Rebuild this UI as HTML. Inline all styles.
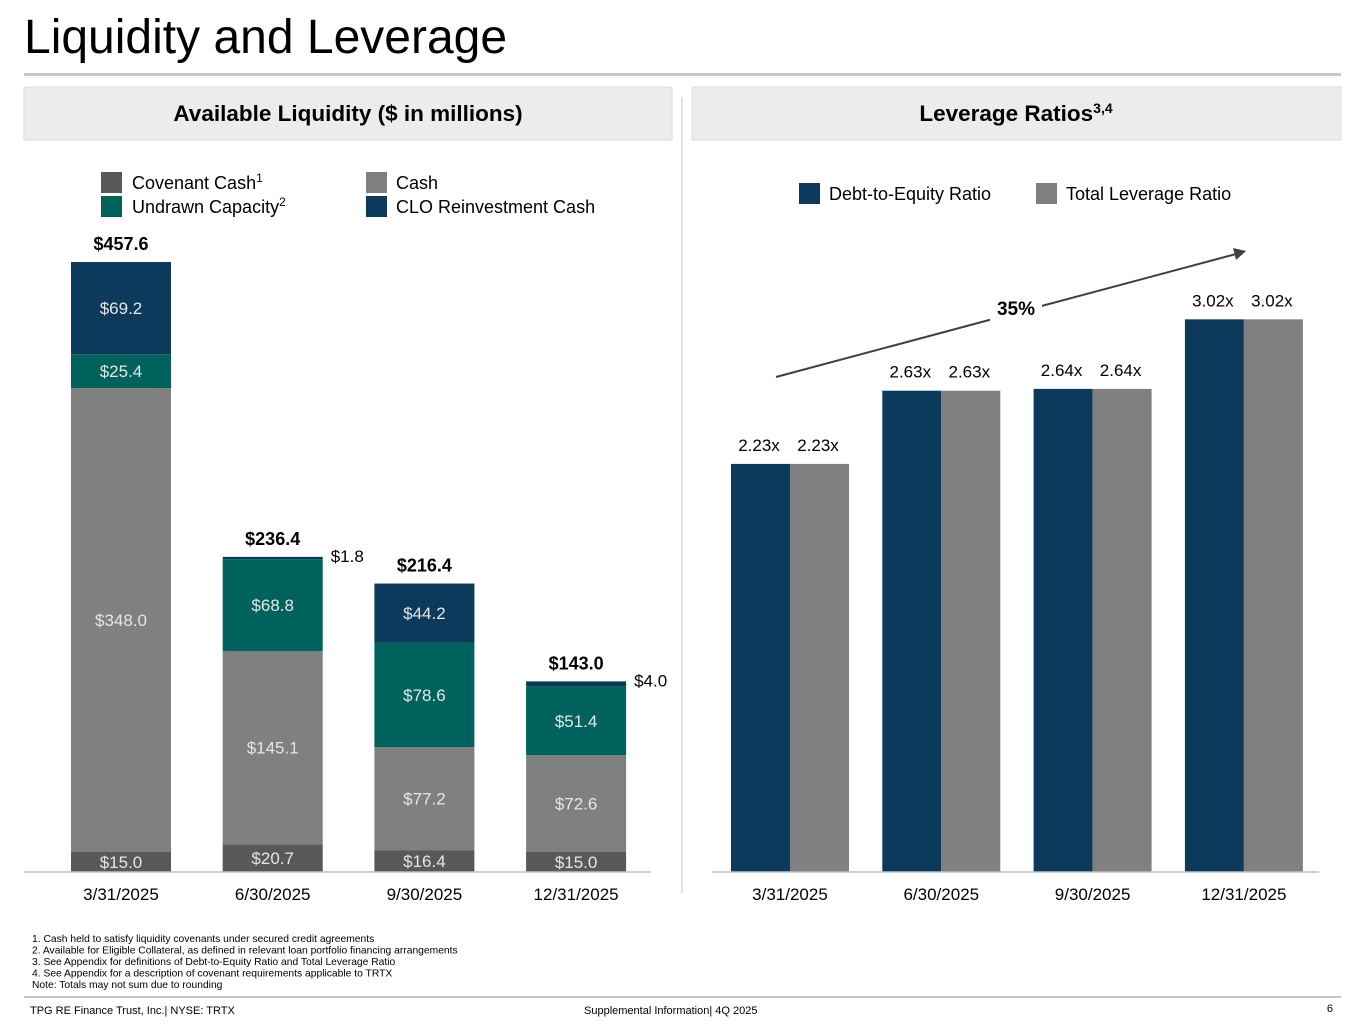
<!DOCTYPE html>
<html><head><meta charset="utf-8"><style>
body{margin:0;background:#fff;font-family:"Liberation Sans",sans-serif;}
#wrap{position:relative;width:1365px;height:1024px;overflow:hidden;}
svg text{font-family:"Liberation Sans",sans-serif;}
</style></head><body><div id="wrap">
<svg id="s" width="1365" height="1024">
<text x="24" y="53" font-size="48" fill="#000">Liquidity and Leverage</text>
<rect x="24" y="73" width="1317" height="3" fill="#c8c8c8"/>
<rect x="24" y="87" width="648" height="53" fill="#ececec" stroke="#dcdcdc"/>
<text x="348" y="121" font-size="22.5" font-weight="bold" text-anchor="middle">Available Liquidity ($ in millions)</text>
<rect x="692" y="87" width="649" height="53" fill="#ececec" stroke="#dcdcdc"/>
<text x="1016" y="121" font-size="22.5" font-weight="bold" text-anchor="middle">Leverage Ratios<tspan font-size="14" dy="-8">3,4</tspan></text>
<line x1="682" y1="97" x2="682" y2="893" stroke="#d9d9d9" stroke-width="1.5"/>
<g>
<rect x="101" y="172" width="21" height="21" fill="#595959"/>
<text x="132" y="189" font-size="18">Covenant Cash<tspan font-size="12" dy="-7">1</tspan></text>
<rect x="101" y="196" width="21" height="21" fill="#00625d"/>
<text x="132" y="213" font-size="18">Undrawn Capacity<tspan font-size="12" dy="-7">2</tspan></text>
<rect x="366" y="172" width="21" height="21" fill="#808080"/>
<text x="396" y="189" font-size="18">Cash</text>
<rect x="366" y="196" width="21" height="21" fill="#0b3a5c"/>
<text x="396" y="213" font-size="18">CLO Reinvestment Cash</text>
</g>
<g>
<rect x="799" y="183" width="21" height="21" fill="#0b3a5c"/>
<text x="829" y="200" font-size="18">Debt-to-Equity Ratio</text>
<rect x="1036" y="183" width="21" height="21" fill="#808080"/>
<text x="1066" y="200" font-size="18">Total Leverage Ratio</text>
</g>
<g id="left"></g>
<g id="right"></g>
<g font-size="10.3" fill="#000">
<text x="32" y="942">1. Cash held to satisfy liquidity covenants under secured credit agreements</text>
<text x="32" y="953.5">2. Available for Eligible Collateral, as defined in relevant loan portfolio financing arrangements</text>
<text x="32" y="965">3. See Appendix for definitions of Debt-to-Equity Ratio and Total Leverage Ratio</text>
<text x="32" y="976.5">4. See Appendix for a description of covenant requirements applicable to TRTX</text>
<text x="32" y="988">Note: Totals may not sum due to rounding</text>
</g>
<rect x="24" y="996" width="1317" height="2" fill="#c8c8c8"/>
<text x="30" y="1014" font-size="11">TPG RE Finance Trust, Inc.| NYSE: TRTX</text>
<text x="584" y="1014" font-size="11">Supplemental Information| 4Q 2025</text>
<text x="1333" y="1012" font-size="11" text-anchor="end">6</text>
</svg>
<script>
const categories=["3/31/2025","6/30/2025","9/30/2025","12/31/2025"];
const covenantCash=[15.0,20.7,16.4,15.0];
const cash=[348.0,145.1,77.2,72.6];
const undrawn=[25.4,68.8,78.6,51.4];
const clo=[69.2,1.8,44.2,4.0];
const totals=[457.6,236.4,216.4,143.0];
const debtToEquity=[2.23,2.63,2.64,3.02];
const totalLeverage=[2.23,2.63,2.64,3.02];
const NS="http://www.w3.org/2000/svg";
function mk(p,t,a,txt){const e=document.createElementNS(NS,t);for(const k in a)e.setAttribute(k,a[k]);if(txt!=null)e.textContent=txt;p.appendChild(e);return e;}
const L=document.getElementById('left'),R=document.getElementById('right');
const base=872;
const yL=v=>v*610/457.6;
const xL=i=>71+i*151.7;
const series=[[covenantCash,"#595959","covenant"],[cash,"#808080","cash"],[undrawn,"#00625d","undrawn"],[clo,"#0b3a5c","clo"]];
categories.forEach((c,i)=>{
  let acc=0;const x=xL(i);
  series.forEach(([arr,col,nm])=>{
    const h=yL(arr[i]);const top=base-yL(acc+arr[i]);
    const r=mk(L,'rect',{x:x,y:top,width:100,height:h,fill:col});
    
    
    const lbl='$'+arr[i].toFixed(1);
    let t;
    if(h>15){t=mk(L,'text',{x:x+50,y:top+h/2+6,'font-size':17,'text-anchor':'middle',fill:'#e6e6e6'},lbl);}
    else{t=mk(L,'text',{x:x+108,y:top+5,'font-size':17,fill:'#000'},lbl);}
    
    
    acc+=arr[i];
  });
  const tt=mk(L,'text',{x:x+50,y:base-yL(totals[i])-12,'font-size':18,'font-weight':'bold','text-anchor':'middle'},'$'+totals[i].toFixed(1));
  
  
  const xl=mk(L,'text',{x:x+50,y:900,'font-size':17,'text-anchor':'middle'},c);
  
  
});
const bl=mk(L,'line',{x1:24,y1:base,x2:651,y2:base,stroke:'#bfbfbf','stroke-width':1.5});


const yR=v=>v*183;
const xR=i=>731+i*151.3;
categories.forEach((c,i)=>{
  const x=xR(i);
  [[debtToEquity,"#0b3a5c","debt-to-equity",0],[totalLeverage,"#808080","total-leverage",59]].forEach(([arr,col,nm,off])=>{
    const h=yR(arr[i]);
    const r=mk(R,'rect',{x:x+off,y:base-h,width:59,height:h,fill:col});
    
    
    const t=mk(R,'text',{x:x+off+28,y:base-h-13,'font-size':17,'text-anchor':'middle'},arr[i].toFixed(2)+'x');
    
    
  });
  const xl=mk(R,'text',{x:x+59,y:900,'font-size':17,'text-anchor':'middle'},c);
  
  
});
const br=mk(R,'line',{x1:712,y1:base,x2:1319,y2:base,stroke:'#bfbfbf','stroke-width':1.5});


const ar=mk(R,'line',{x1:776,y1:377,x2:1236,y2:254,stroke:'#404040','stroke-width':2});


const ah=mk(R,'polygon',{points:'1246,251 1233,248 1236,260',fill:'#404040'});


const bg=mk(R,'rect',{x:990,y:294,width:52,height:28,fill:'#fff'});


const pc=mk(R,'text',{x:1016,y:315,'font-size':19,'font-weight':'bold','text-anchor':'middle'},'35%');


</script>
</div></body></html>
